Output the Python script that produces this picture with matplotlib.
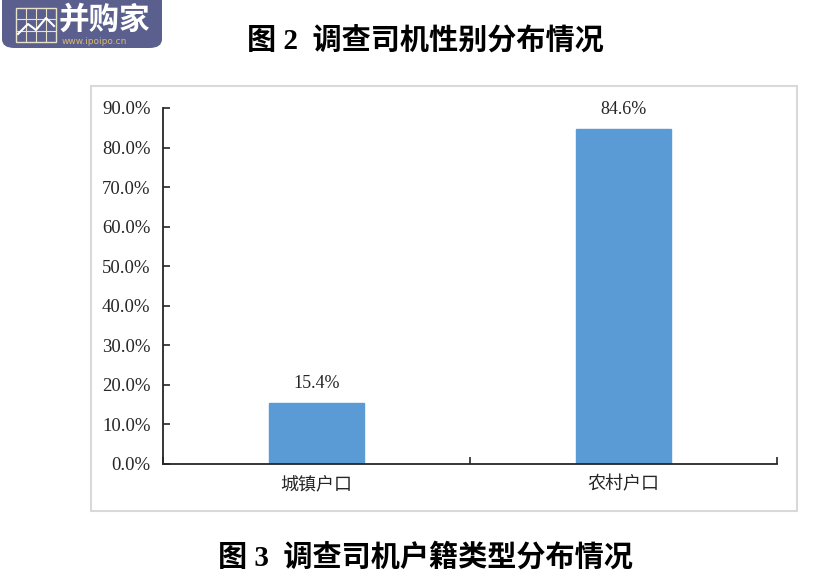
import matplotlib
matplotlib.use("Agg")
import matplotlib.pyplot as plt
from matplotlib.patches import Rectangle, FancyBboxPatch

categories = ["城镇户口", "农村户口"]
values = [15.4, 84.6]
yticks = [0, 10, 20, 30, 40, 50, 60, 70, 80, 90]
ytick_labels = ["0.0%", "10.0%", "20.0%", "30.0%", "40.0%", "50.0%", "60.0%", "70.0%", "80.0%", "90.0%"]
top_title = "图 2  调查司机性别分布情况"
bottom_title = "图 3  调查司机户籍类型分布情况"

W, H = 834, 584
fig = plt.figure(figsize=(W / 100, H / 100), dpi=100)
fig.patch.set_facecolor("white")

def fx(px):
    return px / W

def fy(py):
    return 1 - py / H

cjk = ["Liberation Serif", "Noto Sans CJK SC", "DejaVu Sans"]

# chart border
fig.patches.append(Rectangle((fx(91), fy(511)), fx(797) - fx(91), fy(86) - fy(511),
                             transform=fig.transFigure, fill=False,
                             edgecolor="#d9d9d9", linewidth=1.5))

ax = fig.add_axes([fx(163), fy(464), fx(777) - fx(163), fy(108) - fy(464)])
x = list(range(len(categories)))
bars = ax.bar(x, values, width=0.31, color="#5b9bd5", edgecolor="#5b9bd5")
ax.set_xlim(-0.5, 1.5)
ax.set_ylim(0, 90)
ax.set_yticks(yticks)
ax.set_yticklabels(ytick_labels, family="Liberation Serif", fontsize=13.5, color="#262626")
ax.set_xticks(x)
ax.set_xticklabels(categories, family=["Noto Sans CJK SC", "DejaVu Sans"], fontsize=13, color="#262626")
ax.set_xticks([-0.5, 0.5, 1.5], minor=True)
ax.tick_params(axis="x", which="major", length=0, pad=8)
ax.tick_params(axis="x", which="minor", direction="in", length=5, width=1.2, color="#262626")
ax.tick_params(axis="y", direction="in", length=5, width=1.2, color="#262626", pad=9)
for s in ["top", "right"]:
    ax.spines[s].set_visible(False)
for s in ["left", "bottom"]:
    ax.spines[s].set_color("#262626")
    ax.spines[s].set_linewidth(1.3)

for xi, v in zip(x, values):
    ax.annotate(f"{v:.1f}%", (xi, v), xytext=(0, 8), textcoords="offset points",
                ha="center", va="bottom", family="Liberation Serif", fontsize=13, color="#262626")

# titles
fig.text(fx(425), fy(40), top_title, ha="center", va="center", fontsize=21,
         fontweight="bold", family=cjk, color="black")
fig.text(fx(425), fy(557), bottom_title, ha="center", va="center", fontsize=21,
         fontweight="bold", family=cjk, color="black")

# logo watermark
fig.patches.append(FancyBboxPatch((fx(2), fy(48)), fx(160), fy(0) - fy(48) + 0.02,
                                  boxstyle="round,pad=0,rounding_size=0.015",
                                  transform=fig.transFigure, facecolor="#5b5f8e",
                                  edgecolor="none"))
# grid icon
gx0, gx1, gy0, gy1 = 16, 56, 8, 42
fig.patches.append(Rectangle((fx(gx0), fy(gy1)), fx(gx1) - fx(gx0), fy(gy0) - fy(gy1),
                             transform=fig.transFigure, fill=False, edgecolor="#e8e2c8", linewidth=1))
for i in range(1, 4):
    xx = gx0 + (gx1 - gx0) * i / 4
    fig.lines.append(plt.Line2D([fx(xx), fx(xx)], [fy(gy1), fy(gy0)], transform=fig.transFigure,
                                color="#e8e2c8", linewidth=0.8))
for i in range(1, 3):
    yy = gy0 + (gy1 - gy0) * i / 3
    fig.lines.append(plt.Line2D([fx(gx0), fx(gx1)], [fy(yy), fy(yy)], transform=fig.transFigure,
                                color="#e8e2c8", linewidth=0.8))
fig.lines.append(plt.Line2D([fx(18), fx(28), fx(36), fx(46), fx(54)],
                            [fy(34), fy(24), fy(30), fy(18), fy(26)], transform=fig.transFigure,
                            color="white", linewidth=1.5))
fig.text(fx(59), fy(20), "并购家", ha="left", va="center", fontsize=22, fontweight="bold",
         family=["Noto Sans CJK SC", "DejaVu Sans"], color="white")
fig.text(fx(62), fy(42), "www.ipoipo.cn", ha="left", va="center", fontsize=6.5,
         family="DejaVu Sans", color="#d9b96a")

fig.savefig("out.png", dpi=100)
